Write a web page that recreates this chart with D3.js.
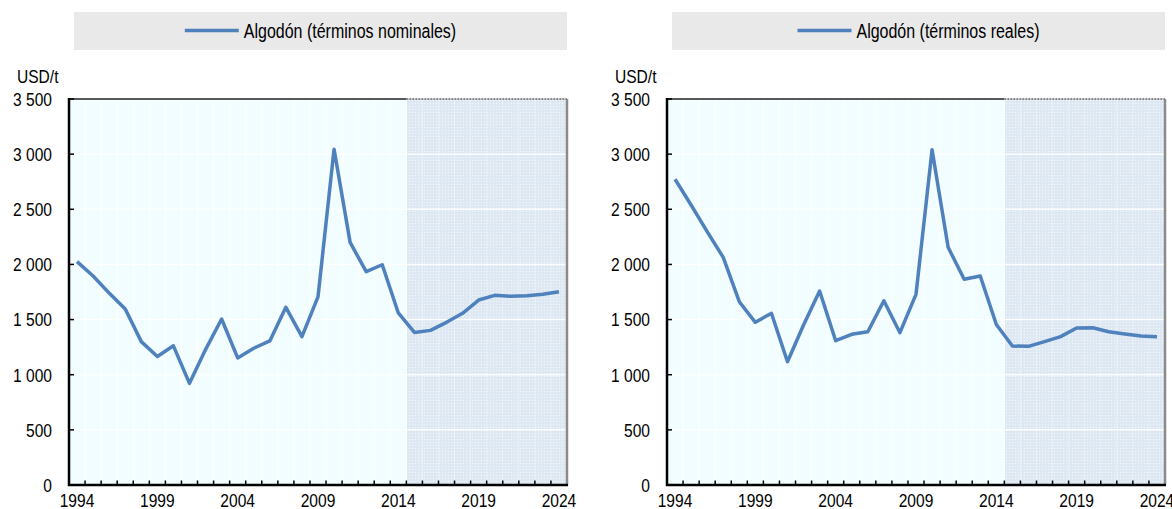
<!DOCTYPE html>
<html>
<head>
  <meta charset="utf-8">
  <script src="https://d3js.org/d3.v7.min.js"></script>
  <style>
    body { margin: 0; background: #fff; }
    svg text {
      font-family: "Liberation Sans", Arial, sans-serif;
      fill: #000;
    }
  </style>
</head>
<body>
  <svg id="chart" width="1172" height="509"></svg>
  <script>
    // years shown on the x axis
    const years = d3.range(1994, 2025);
    const yearLabels = [1994, 1999, 2004, 2009, 2014, 2019, 2024];
    const yTicks = [0, 500, 1000, 1500, 2000, 2500, 3000, 3500];

    // cotton price, nominal terms (USD/t)
    const nominal = [2025, 1895, 1740, 1595, 1300, 1165, 1262, 922, 1228, 1505,
      1152, 1240, 1306, 1611, 1345, 1705, 3045, 2200, 1934, 1997,
      1560, 1383, 1402, 1475, 1557, 1677, 1720, 1711, 1716, 1729, 1753];

    // cotton price, real terms (USD/t)
    const real = [2772, 2539, 2297, 2064, 1662, 1475, 1557, 1118, 1451, 1759,
      1308, 1366, 1390, 1671, 1381, 1729, 3040, 2155, 1865, 1895,
      1455, 1260, 1257, 1300, 1345, 1423, 1426, 1390, 1369, 1351, 1345];

    const panels = [
      { label: "Algodón (términos nominales)", values: nominal, x0: 69, x1: 567 },
      { label: "Algodón (términos reales)", values: real, x0: 667, x1: 1165 }
    ];

    const projStart = 2014.5;
    const plotTop = 99, plotBottom = 485;
    const lineColor = "#4f81bd";
    const narrow = 0.82; // squeeze Liberation Sans to look like Arial Narrow

    const svg = d3.select("#chart");

    // text helper: narrow text anchored at (x, y)
    function narrowText(parent, x, y, str, anchor, size) {
      const t = parent.append("g")
        .attr("transform", `translate(${x},${y}) scale(${narrow},1)`)
        .append("text")
        .attr("text-anchor", anchor)
        .attr("font-size", size)
        .text(str);
      return t;
    }

    // dotted fill for the projection period
    const defs = svg.append("defs");
    const pat = defs.append("pattern")
      .attr("id", "dots")
      .attr("width", 3).attr("height", 3)
      .attr("patternUnits", "userSpaceOnUse");
    pat.append("rect").attr("width", 3).attr("height", 3).attr("fill", "#dde8f2");
    pat.append("rect").attr("x", 1).attr("y", 1).attr("width", 1).attr("height", 1)
      .attr("fill", "#f4f8fc");

    panels.forEach(p => {
      const g = svg.append("g");

      const x = d3.scaleLinear().domain([1993.5, 2024.5]).range([p.x0, p.x1]);
      const y = d3.scaleLinear().domain([0, 3500]).range([plotBottom, plotTop]);

      // legend box
      g.append("rect")
        .attr("x", p.x0 + 5).attr("y", 12)
        .attr("width", p.x1 - p.x0 - 5).attr("height", 38)
        .attr("fill", "#e9e9e9");

      const leg = g.append("g");
      leg.append("line")
        .attr("x1", 0).attr("x2", 54)
        .attr("y1", 30.5).attr("y2", 30.5)
        .attr("stroke", lineColor).attr("stroke-width", 3.5);
      const legText = narrowText(leg, 59, 37.5, p.label, "start", "19.5px");
      const legW = 59 + legText.node().getComputedTextLength() * narrow;
      leg.attr("transform", `translate(${(p.x0 + 5 + p.x1) / 2 - legW / 2},0)`);

      // plot background
      g.append("rect")
        .attr("x", p.x0).attr("y", plotTop)
        .attr("width", p.x1 - p.x0).attr("height", plotBottom - plotTop)
        .attr("fill", "#f1fdfe");

      // projection shading
      g.append("rect")
        .attr("x", x(projStart)).attr("y", plotTop)
        .attr("width", p.x1 - x(projStart)).attr("height", plotBottom - plotTop)
        .attr("fill", "url(#dots)");

      // white grid
      g.selectAll(".vgrid").data(years.slice(0, -1))
        .join("line")
        .attr("x1", d => x(d + 0.5)).attr("x2", d => x(d + 0.5))
        .attr("y1", plotTop).attr("y2", plotBottom)
        .attr("stroke", "#fff").attr("stroke-width", 1)
        .attr("stroke-opacity", d => d + 0.5 > projStart ? 0.35 : 1);
      g.selectAll(".hgrid").data(yTicks.slice(1, -1))
        .join("line")
        .attr("x1", p.x0).attr("x2", p.x1)
        .attr("y1", d => y(d)).attr("y2", d => y(d))
        .attr("stroke", "#fff").attr("stroke-width", 1.5)
        .attr("stroke-opacity", 0.9);

      // frame
      g.append("line")
        .attr("x1", p.x0).attr("x2", x(projStart))
        .attr("y1", plotTop).attr("y2", plotTop)
        .attr("stroke", "#222").attr("stroke-width", 1.5);
      g.append("line")
        .attr("x1", x(projStart)).attr("x2", p.x1)
        .attr("y1", plotTop).attr("y2", plotTop)
        .attr("stroke", "#666").attr("stroke-width", 1.5)
        .attr("stroke-dasharray", "2,1");
      g.append("line")
        .attr("x1", p.x1).attr("x2", p.x1)
        .attr("y1", plotTop).attr("y2", plotBottom)
        .attr("stroke", "#8a8a8a").attr("stroke-width", 2.5);

      // data line
      const line = d3.line()
        .x((d, i) => x(years[i]))
        .y(d => y(d));
      g.append("path")
        .datum(p.values)
        .attr("d", line)
        .attr("fill", "none")
        .attr("stroke", lineColor)
        .attr("stroke-width", 3.5)
        .attr("stroke-linejoin", "round");

      // x axis: ticks between years pointing inward, labels every 5 years
      g.selectAll(".xtick").data(years.slice(0, -1))
        .join("line")
        .attr("x1", d => x(d + 0.5)).attr("x2", d => x(d + 0.5))
        .attr("y1", plotBottom).attr("y2", plotBottom - 4.5)
        .attr("stroke", "#000").attr("stroke-width", 1.5);
      yearLabels.forEach(yr => narrowText(g, x(yr), plotBottom + 22, yr, "middle", "19px"));

      // y axis
      g.selectAll(".ytick").data(yTicks)
        .join("line")
        .attr("x1", p.x0).attr("x2", p.x0 + 5)
        .attr("y1", d => y(d)).attr("y2", d => y(d))
        .attr("stroke", "#000").attr("stroke-width", 1.5);
      yTicks.forEach(v => {
        narrowText(g, p.x0 - 17, y(v), d3.format(",")(v).replace(",", " "), "end", "19px")
          .attr("dy", "0.36em");
      });

      narrowText(g, p.x0 - 52, 83, "USD/t", "start", "19px");

      g.append("line")
        .attr("x1", p.x0).attr("x2", p.x0)
        .attr("y1", plotTop - 1).attr("y2", plotBottom + 1)
        .attr("stroke", "#000").attr("stroke-width", 2.5);
      g.append("line")
        .attr("x1", p.x0 - 1).attr("x2", p.x1 + 1)
        .attr("y1", plotBottom).attr("y2", plotBottom)
        .attr("stroke", "#000").attr("stroke-width", 2.5);
    });
  </script>
</body>
</html>
